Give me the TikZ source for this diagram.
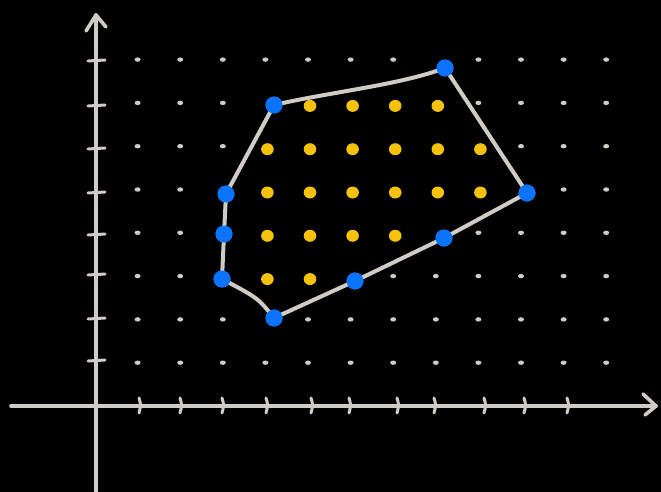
\documentclass[tikz,border=0pt]{standalone}
\usetikzlibrary{arrows.meta}
\definecolor{chalk}{HTML}{CFCBC5}
\definecolor{vblue}{HTML}{0A74FF}
\definecolor{pyellow}{HTML}{F4C20D}
\begin{document}
\begin{tikzpicture}[x=1pt,y=-1pt,
  axisline/.style={draw=chalk,line width=3.6pt,line cap=round,line join=round},
  tickmark/.style={draw=chalk,line width=3pt,line cap=round},
  edgeline/.style={draw=chalk,line width=4pt,line cap=round,line join=round},
  vertexdot/.style={circle,fill=vblue,inner sep=0pt,minimum size=17pt},
  innerdot/.style={ellipse,fill=pyellow,inner sep=0pt,minimum width=13pt,minimum height=12pt}]
\fill[black] (0,0) rectangle (661,492);
\useasboundingbox (0,0) rectangle (661,492);
% axes
\coordinate (ytop) at (96,15);
\coordinate (ybot) at (96,492);
\coordinate (xleft) at (11,406);
\coordinate (xright) at (656,406);
\draw[axisline] (ybot) -- (ytop);
\draw[axisline] (xleft) -- (xright);
\draw[axisline] (86,31) -- (ytop) -- (106,27);
\draw[axisline] (643,394) -- (xright) -- (645,415);
% ticks
\foreach \tx in {139,180,222,266,311,349,397,434,484,524,567}
  \draw[tickmark] (\tx,398) .. controls (\tx+2,405) .. (\tx,413);
\foreach \ty in {60,105,148,192,234,274,318,360}
  \draw[tickmark] (88,\ty+1) -- (105,\ty);
% grid dots (outside the polygon)
\foreach \i/\j in {1/8,2/8,3/8,4/8,5/8,6/8,7/8,9/8,10/8,11/8,12/8,
  1/7,2/7,3/7,9/7,10/7,11/7,12/7,
  1/6,2/6,3/6,10/6,11/6,12/6,
  1/5,2/5,11/5,12/5,
  1/4,2/4,9/4,10/4,11/4,12/4,
  1/3,2/3,7/3,8/3,9/3,10/3,11/3,12/3,
  1/2,2/2,3/2,5/2,6/2,7/2,8/2,9/2,10/2,11/2,12/2,
  1/1,2/1,3/1,4/1,5/1,6/1,7/1,8/1,9/1,10/1,11/1,12/1}
  \fill[chalk] ({95+42.6*\i},{406-43.3*\j}) ellipse (3pt and 2.2pt);
% polygon vertices
\node[vertexdot] (v1) at (445,68) {};
\node[vertexdot] (v2) at (527,193) {};
\node[vertexdot] (v3) at (444,238) {};
\node[vertexdot] (v4) at (355,281) {};
\node[vertexdot] (v5) at (274,318) {};
\node[vertexdot] (v6) at (222,279) {};
\node[vertexdot] (v7) at (224,234) {};
\node[vertexdot] (v8) at (226,194) {};
\node[vertexdot] (v9) at (274,105) {};
% polygon edges
\draw[edgeline] (v1.center) -- (v2.center) -- (v3.center) -- (v4.center)
  -- (v5.center) .. controls (258,298) .. (v6.center) -- (v7.center) -- (v8.center)
  -- (v9.center) .. controls (330,92) and (400,85) .. (v1.center);
% vertices on top of the edges
\foreach \v in {v1,v2,v3,v4,v5,v6,v7,v8,v9}
  \fill[vblue] (\v) circle (8.5pt);
% interior points
\foreach \i/\j in {5/7,6/7,7/7,8/7,
  4/6,5/6,6/6,7/6,8/6,9/6,
  4/5,5/5,6/5,7/5,8/5,9/5,
  4/4,5/4,6/4,7/4,
  4/3,5/3}
  \fill[pyellow] ({95+42.6*\i+2},{406-43.3*\j+3}) ellipse (6.3pt and 6pt);
\end{tikzpicture}
\end{document}
